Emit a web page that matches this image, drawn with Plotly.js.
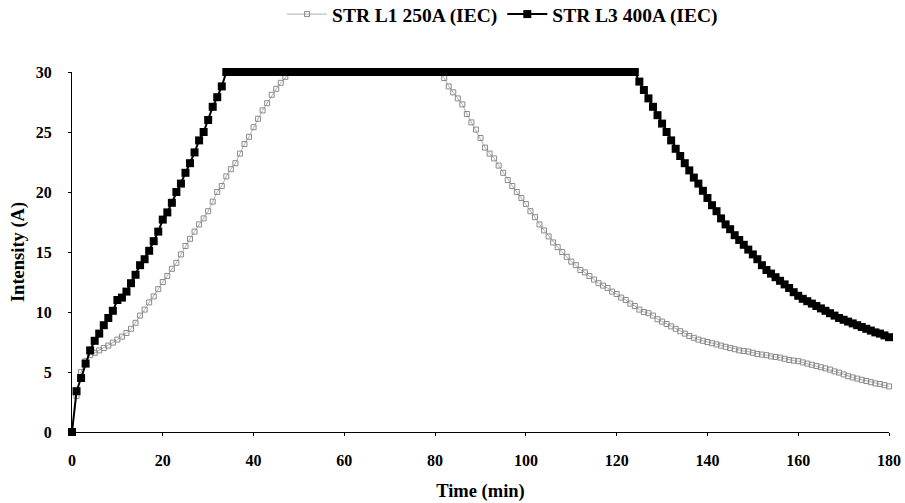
<!DOCTYPE html>
<html>
<head>
<meta charset="utf-8">
<script src="https://cdn.plot.ly/plotly-3.0.1.min.js"></script>
<style>html,body{margin:0;padding:0;background:#fff;}#chart{width:905px;height:503px;}</style>
</head>
<body>
<div id="chart"></div>
<script>
// Sample times (min)
const timeMin = [
0,1,2,3,4,5,6,7,8,9,10,11,12,13,14,15,16,17,18,19,
20,21,22,23,24,25,26,27,28,29,30,31,32,33,34,35,36,37,38,39,
40,41,42,43,44,45,46,47,48,49,50,51,52,53,54,55,56,57,58,59,
60,61,62,63,64,65,66,67,68,69,70,71,72,73,74,75,76,77,78,79,
80,81,82,83,84,85,86,87,88,89,90,91,92,93,94,95,96,97,98,99,
100,101,102,103,104,105,106,107,108,109,110,111,112,113,114,115,116,117,118,119,
120,121,122,123,124,125,126,127,128,129,130,131,132,133,134,135,136,137,138,139,
140,141,142,143,144,145,146,147,148,149,150,151,152,153,154,155,156,157,158,159,
160,161,162,163,164,165,166,167,168,169,170,171,172,173,174,175,176,177,178,179,180
];

// STR L1 250A (IEC) intensity (A)
const l1Intensity = [
0,3.0,5.0,5.9,6.4,6.6,6.8,7.0,7.2,7.45,
7.7,7.95,8.25,8.6,9.1,9.7,10.2,10.8,11.3,11.9,
12.5,13.0,13.6,14.1,14.8,15.5,16.1,16.7,17.3,17.8,
18.4,19.2,20.0,20.5,21.3,21.9,22.4,23.2,24.0,24.6,
25.4,26.1,26.8,27.4,28.1,28.6,29.1,29.6,30,
30,30,30,30,30,30,30,30,30,30,30,
30,30,30,30,30,30,30,30,30,30,30,
30,30,30,30,30,30,30,30,30,30,30,
29.5,28.8,28.3,27.8,27.3,26.5,25.8,25.2,24.5,23.7,
23.2,22.8,22.2,21.6,21.0,20.5,20.0,19.5,19.0,18.4,
17.9,17.3,16.8,16.3,15.8,15.4,15.0,14.6,14.2,13.9,
13.5,13.3,13.0,12.7,12.4,12.2,12.0,11.7,11.5,11.2,
11.0,10.7,10.5,10.2,10.0,9.9,9.7,9.4,9.2,9.0,
8.8,8.6,8.4,8.2,8.0,7.85,7.7,7.6,7.5,7.4,
7.3,7.2,7.1,7.0,6.9,6.8,6.75,6.7,6.6,6.5,
6.45,6.4,6.3,6.25,6.2,6.1,6.0,5.95,5.9,5.8,
5.7,5.6,5.5,5.4,5.3,5.2,5.05,4.95,4.8,4.65,
4.55,4.45,4.35,4.25,4.15,4.05,4.0,3.9,3.8
];

// STR L3 400A (IEC) intensity (A)
const l3Intensity = [
0,3.4,4.5,5.7,6.8,7.6,8.2,8.9,9.5,10.1,
11.0,11.2,11.7,12.4,13.1,13.9,14.4,15.1,15.9,16.7,
17.7,18.3,19.1,20.0,20.7,21.6,22.4,23.3,24.3,25.0,
26.0,27.1,27.9,28.8,30,
30,30,30,30,30,30,30,30,30,30,
30,30,30,30,30,30,30,30,30,30,
30,30,30,30,30,30,30,30,30,30,
30,30,30,30,30,30,30,30,30,30,
30,30,30,30,30,30,30,30,30,30,
30,30,30,30,30,30,30,30,30,30,
30,30,30,30,30,30,30,30,30,30,
30,30,30,30,30,30,30,30,30,30,
30,30,30,30,30,30,30,30,30,
30,29.2,28.5,27.8,27.1,26.4,25.7,25.0,24.3,23.6,
23.0,22.4,21.8,21.2,20.7,20.1,19.5,18.9,18.4,17.8,
17.3,16.9,16.4,16.0,15.6,15.2,14.8,14.4,13.9,13.5,
13.2,12.9,12.6,12.3,12.0,11.65,11.35,11.1,10.9,10.7,
10.5,10.3,10.1,9.9,9.7,9.5,9.35,9.2,9.05,8.9,
8.75,8.6,8.45,8.3,8.2,8.05,7.9
];

const seriesNames = ["STR L1 250A (IEC)", "STR L3 400A (IEC)"];
const xTicks = [0,20,40,60,80,100,120,140,160,180];
const yTicks = [0,5,10,15,20,25,30];

const serif = "'Liberation Serif', 'Times New Roman', serif";

const traces = [
  {
    x: timeMin, y: l1Intensity, name: seriesNames[0],
    type: 'scatter', mode: 'lines+markers', cliponaxis: false,
    line: {color: '#b0b0b0', width: 1},
    marker: {symbol: 'square-open', size: 5, color: '#8a8a8a', line: {width: 1, color: '#8a8a8a'}}
  },
  {
    x: timeMin, y: l3Intensity, name: seriesNames[1],
    type: 'scatter', mode: 'lines+markers', cliponaxis: false,
    line: {color: '#000', width: 2},
    marker: {symbol: 'square', size: 8, color: '#000'}
  }
];

const layout = {
  width: 905, height: 503,
  margin: {l: 72, r: 16, t: 72, b: 71, autoexpand: false},
  paper_bgcolor: '#fff', plot_bgcolor: '#fff',
  font: {family: serif, color: '#000', size: 14},
  showlegend: true,
  legend: {
    orientation: 'h', x: 0.527, xanchor: 'center', y: 1.16, yanchor: 'middle',
    font: {family: serif, size: 19.5, color: '#000', weight: 'bold'},
    itemwidth: 40, bgcolor: 'rgba(0,0,0,0)'
  },
  xaxis: {
    range: [0, 180], tickvals: xTicks, ticktext: xTicks.map(String),
    showgrid: false, zeroline: false, showline: true, linecolor: '#000', linewidth: 1,
    ticks: 'outside', ticklen: 3, tickcolor: '#000',
    tickfont: {family: serif, size: 16, weight: 'bold'},
    ticklabelstandoff: 11,
    title: {text: 'Time (min)', font: {family: serif, size: 18.5, weight: 'bold'}, standoff: 15}
  },
  yaxis: {
    range: [0, 30], tickvals: yTicks, ticktext: yTicks.map(String),
    showgrid: false, zeroline: false, showline: true, linecolor: '#000', linewidth: 1,
    ticks: 'outside', ticklen: 3, tickcolor: '#000',
    tickfont: {family: serif, size: 16, weight: 'bold'},
    ticklabelstandoff: 13,
    title: {text: 'Intensity (A)', font: {family: serif, size: 18.5, weight: 'bold'}, standoff: 6}
  }
};

Plotly.newPlot('chart', traces, layout, {displayModeBar: false, staticPlot: true});
</script>
</body>
</html>
